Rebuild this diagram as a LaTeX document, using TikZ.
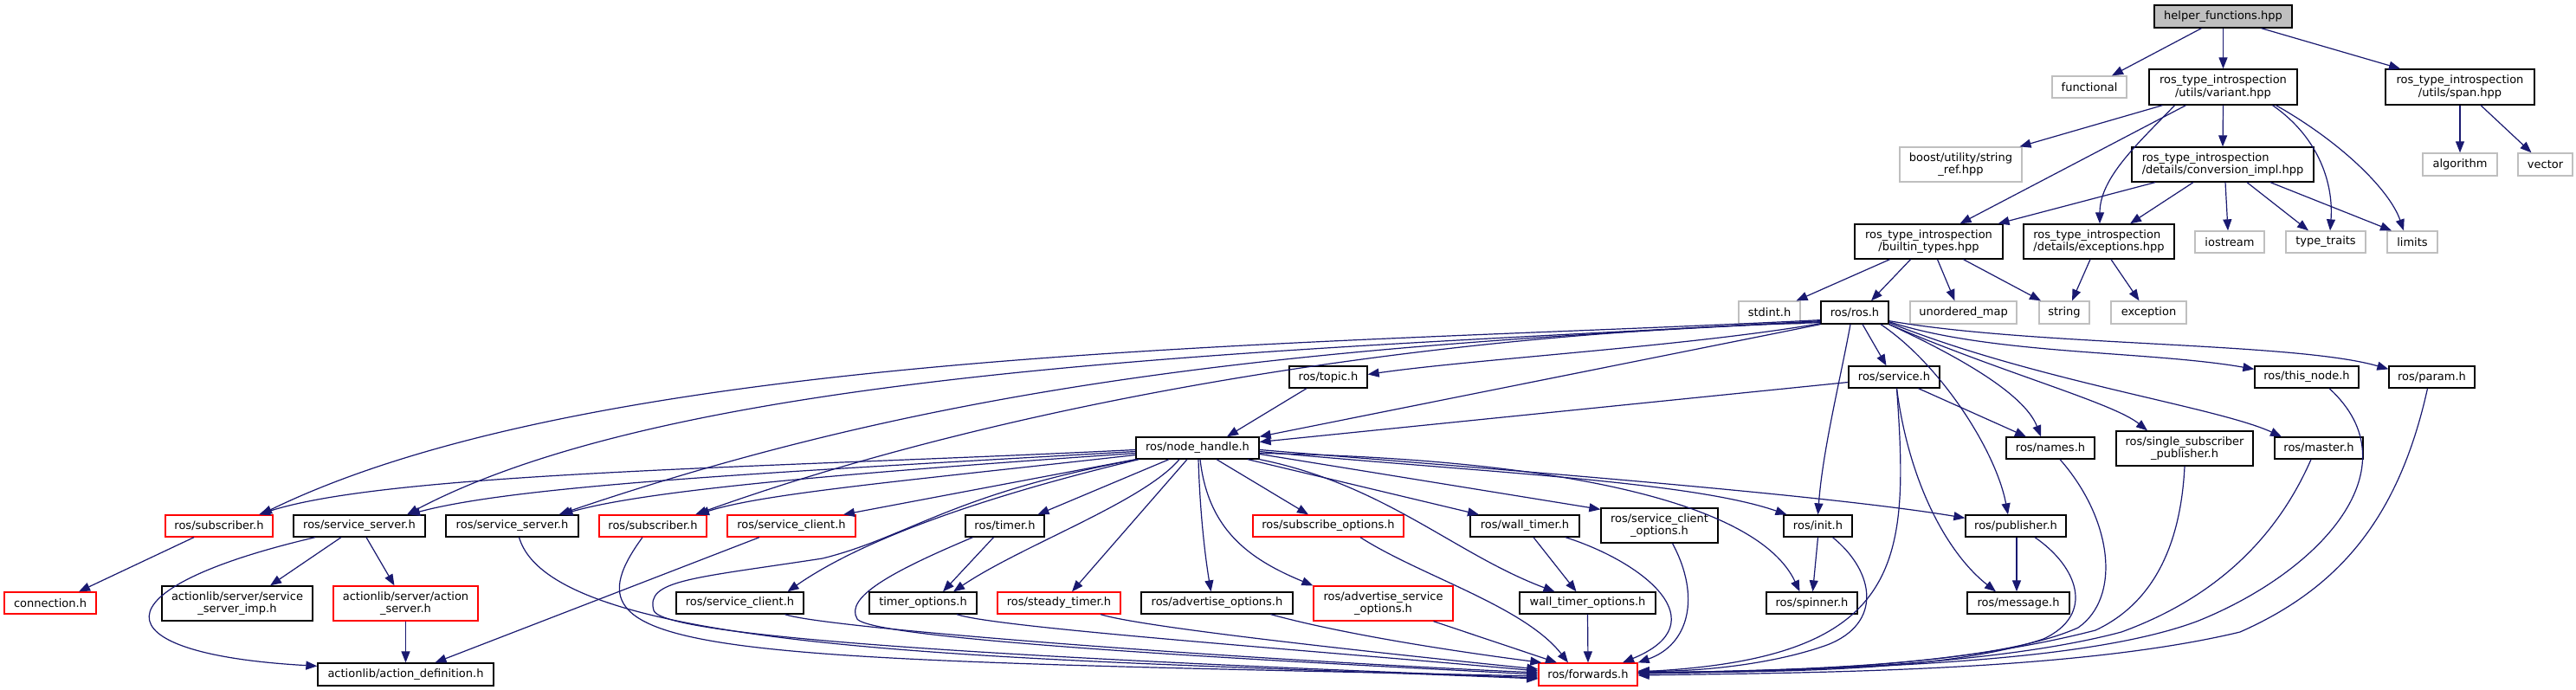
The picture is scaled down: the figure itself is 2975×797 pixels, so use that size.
\documentclass[tikz,border=0pt]{standalone}
\usepackage{fontspec}
\setmainfont{DejaVu Sans}
\usetikzlibrary{arrows.meta}
\definecolor{midblue}{HTML}{191970}
\definecolor{sysgray}{HTML}{BFBFBF}
\definecolor{missred}{HTML}{FF0000}
\begin{document}
\begin{tikzpicture}[x=1pt,y=-1pt,
  nb/.style={draw=black,fill=white,line width=1.3pt,inner sep=0pt,align=center,text=black,font=\fontsize{13}{14.5}\selectfont},
  sys/.style={nb,draw=sysgray},
  miss/.style={nb,draw=missred},
  root/.style={nb,fill=sysgray},
  sz/.style 2 args={minimum width=#1pt,minimum height=#2pt},
  e/.style={draw=midblue,line width=1.2pt,-{Triangle[length=13pt,width=10pt]}}]
\fill[white] (0,0) rectangle (2975,797);
\useasboundingbox (0,0) rectangle (2975,797);
% ---------- nodes ----------
\node[root,sz={159}{26}] (helper) at (2567.5,19) {helper\_functions.hpp};
\node[sys,sz={86}{25}] (functional) at (2413,100.5) {functional};
\node[nb,sz={171}{41}] (variant) at (2567.5,100.5) {ros\_type\_introspection\\/utils/variant.hpp};
\node[nb,sz={172}{41}] (span) at (2841,100.5) {ros\_type\_introspection\\/utils/span.hpp};
\node[sys,sz={141}{40}] (boost) at (2264.5,190) {boost/utility/string\\\_ref.hpp};
\node[nb,sz={210}{40},align=left] (conv) at (2567,190) {ros\_type\_introspection\\/details/conversion\_impl.hpp};
\node[sys,sz={86}{26}] (algorithm) at (2841,190) {algorithm};
\node[sys,sz={63}{26}] (vector) at (2939.5,190) {vector};
\node[nb,sz={171}{40}] (builtin) at (2227.5,279) {ros\_type\_introspection\\/builtin\_types.hpp};
\node[nb,sz={174}{40},align=left] (exceptions) at (2424,279) {ros\_type\_introspection\\/details/exceptions.hpp};
\node[sys,sz={80}{25}] (iostream) at (2575,279.5) {iostream};
\node[sys,sz={92}{25}] (typetraits) at (2686,279.5) {type\_traits};
\node[sys,sz={58}{25}] (limits) at (2786,279.5) {limits};
\node[sys,sz={71}{26}] (stdint) at (2043.5,361) {stdint.h};
\node[nb,sz={78}{26}] (rosh) at (2142,361) {ros/ros.h};
\node[sys,sz={123}{26}] (umap) at (2267.5,361) {unordered\_map};
\node[sys,sz={58}{26}] (string) at (2384,361) {string};
\node[sys,sz={87}{26}] (exception) at (2481.5,361) {exception};
\node[nb,sz={90}{25}] (topic) at (1534,435.5) {ros/topic.h};
\node[nb,sz={105}{25}] (service) at (2187.5,435.5) {ros/service.h};
\node[nb,sz={120}{25}] (thisnode) at (2664,435.5) {ros/this\_node.h};
\node[nb,sz={99}{25}] (param) at (2808.5,435.5) {ros/param.h};
\node[nb,sz={142}{25}] (nh) at (1383,517.5) {ros/node\_handle.h};
\node[nb,sz={102}{25}] (names) at (2368,517.5) {ros/names.h};
\node[nb,sz={158}{40}] (single) at (2523,518) {ros/single\_subscriber\\\_publisher.h};
\node[nb,sz={102}{25}] (master) at (2678,517.5) {ros/master.h};
\node[miss,sz={124}{25}] (sub1) at (253,607.5) {ros/subscriber.h};
\node[nb,sz={152}{25}] (ss1) at (415,607.5) {ros/service\_server.h};
\node[nb,sz={153}{25}] (ss2) at (591.5,607.5) {ros/service\_server.h};
\node[miss,sz={124}{25}] (sub2) at (754,607.5) {ros/subscriber.h};
\node[miss,sz={148}{25}] (scred) at (914,607.5) {ros/service\_client.h};
\node[nb,sz={91}{25}] (timer) at (1160.5,607.5) {ros/timer.h};
\node[miss,sz={174}{25}] (subopts) at (1534,607.5) {ros/subscribe\_options.h};
\node[nb,sz={126}{25}] (walltimer) at (1761,607.5) {ros/wall\_timer.h};
\node[nb,sz={135}{40}] (sco) at (1916.5,607) {ros/service\_client\\\_options.h};
\node[nb,sz={79}{25}] (init) at (2099.5,607.5) {ros/init.h};
\node[nb,sz={116}{25}] (publisher) at (2328,607.5) {ros/publisher.h};
\node[miss,sz={106}{25}] (connection) at (58,696.5) {connection.h};
\node[nb,sz={174}{40}] (ssimp) at (274,697) {actionlib/server/service\\\_server\_imp.h};
\node[miss,sz={167}{40}] (actserver) at (468.5,697) {actionlib/server/action\\\_server.h};
\node[nb,sz={147}{25}] (sc) at (854.5,696.5) {ros/service\_client.h};
\node[nb,sz={124}{25}] (timeropts) at (1066,696.5) {timer\_options.h};
\node[miss,sz={142}{25}] (steady) at (1223,696.5) {ros/steady\_timer.h};
\node[nb,sz={175}{25}] (advopts) at (1405.5,696.5) {ros/advertise\_options.h};
\node[miss,sz={161}{40}] (aso) at (1597.5,697) {ros/advertise\_service\\\_options.h};
\node[nb,sz={157}{25}] (wtopts) at (1833.5,696.5) {wall\_timer\_options.h};
\node[nb,sz={105}{25}] (spinner) at (2092.5,696.5) {ros/spinner.h};
\node[nb,sz={118}{25}] (message) at (2331,696.5) {ros/message.h};
\node[nb,sz={203}{26}] (actdef) at (468.5,779) {actionlib/action\_definition.h};
\node[miss,sz={114}{26}] (forwards) at (1834,779) {ros/forwards.h};
% ---------- edges: top ----------
\draw[e] ([xshift=-25]helper.south) -- ([xshift=26]functional.north);
\draw[e] (helper.south) -- (variant.north);
\draw[e] ([xshift=44]helper.south) -- ([xshift=-69]span.north);
\draw[e] ([xshift=-70]variant.south) -- ([xshift=68]boost.north);
\draw[e] ([xshift=-43]variant.south) -- ([xshift=36]builtin.north);
\draw[e] ([xshift=-56]variant.south) .. controls (2470,165) and (2425,205) .. ([xshift=1]exceptions.north);
\draw[e] (variant.south) -- (conv.north);
\draw[e] ([xshift=57]variant.south) .. controls (2680,160) and (2695,215) .. ([xshift=5]typetraits.north);
\draw[e] ([xshift=61]variant.south) .. controls (2705,165) and (2760,220) .. ([xshift=-10]limits.north);
\draw[e] (span.south) -- (algorithm.north);
\draw[e] ([xshift=24]span.south) -- ([xshift=-16]vector.north);
\draw[e] ([xshift=-78]conv.south) -- ([xshift=80]builtin.north);
\draw[e] ([xshift=-34]conv.south) -- ([xshift=36]exceptions.north);
\draw[e] ([xshift=3]conv.south) -- ([xshift=-2]iostream.north);
\draw[e] ([xshift=28]conv.south) -- ([xshift=-20]typetraits.north);
\draw[e] ([xshift=55]conv.south) -- ([xshift=-24]limits.north);
\draw[e] ([xshift=-45]builtin.south) -- ([xshift=31]stdint.north);
\draw[e] ([xshift=-21]builtin.south) -- ([xshift=19]rosh.north);
\draw[e] ([xshift=10]builtin.south) -- ([xshift=-10]umap.north);
\draw[e] ([xshift=40]builtin.south) -- ([xshift=-27]string.north);
\draw[e] ([xshift=-10]exceptions.south) -- ([xshift=9]string.north);
\draw[e] ([xshift=14]exceptions.south) -- ([xshift=-11]exception.north);
% ---------- edges: ros.h ----------
\draw[e] ([xshift=9]rosh.south) -- ([xshift=-9]service.north);
\draw[e] ([xshift=-5]rosh.south) .. controls (2125,440) and (2105,520) .. (init.north);
\draw[e] ([xshift=30]rosh.south) .. controls (2240,420) and (2305,520) .. ([xshift=-9]publisher.north);
\draw[e] (rosh.south east) .. controls (2280,420) and (2340,460) .. ([xshift=-11]names.north);
\draw[e] (rosh.south east) .. controls (2310,430) and (2440,465) .. ([xshift=-43]single.north);
\draw[e] ([yshift=2]rosh.south east) .. controls (2350,440) and (2560,470) .. ([xshift=-43]master.north);
\draw[e] ([yshift=3]rosh.south east) .. controls (2300,410) and (2480,405) .. ([yshift=-4]thisnode.north west);
\draw[e] ([yshift=4]rosh.south east) .. controls (2350,400) and (2650,395) .. ([yshift=-4]param.north west);
\draw[e] ([yshift=1]rosh.south west) .. controls (1950,400) and (1700,415) .. ([yshift=3]topic.east);
\draw[e] (rosh.south west) -- (nh.north east);
\draw[e] ([yshift=5]rosh.south west) .. controls (1500,400) and (700,400) .. ([xshift=48]sub1.north);
\draw[e] ([yshift=4]rosh.south west) .. controls (1500,405) and (800,420) .. ([xshift=55]ss1.north);
\draw[e] ([yshift=3]rosh.south west) .. controls (1500,400) and (1100,440) .. ([xshift=54]ss2.north);
\draw[e] ([yshift=2]rosh.south west) .. controls (1620,385) and (1150,470) .. ([xshift=49]sub2.north);
% ---------- edges: level 5/6 ----------
\draw[e] ([xshift=-25]topic.south) -- ([xshift=34]nh.north);
\draw[e] ([yshift=-6]service.west) -- ([yshift=7]nh.east);
\draw[e] ([xshift=28]service.south) -- ([xshift=-28]names.north);
\draw[e] ([xshift=3]service.south) .. controls (2205,560) and (2250,640) .. ([xshift=-26]message.north);
\draw[e] ([xshift=3]service.south) .. controls (2205,650) and (2200,760) .. ([yshift=3]forwards.east);
\draw[e] ([xshift=26]thisnode.south) .. controls (2790,540) and (2680,660) .. (2539,717) .. controls (2400,770) and (2100,772) .. ([yshift=1]forwards.east);
\draw[e] ([xshift=-5]param.south) .. controls (2770,600) and (2700,680) .. (2587,730) .. controls (2400,775) and (2100,777) .. ([yshift=-1]forwards.east);
\draw[e] ([xshift=11]names.south) .. controls (2440,600) and (2450,690) .. (2400,725) .. controls (2300,770) and (2050,775) .. ([yshift=2]forwards.east);
\draw[e] (single.south) .. controls (2518,640) and (2480,700) .. (2420,728) .. controls (2250,772) and (2050,776) .. ([yshift=2]forwards.east);
\draw[e] ([xshift=-9]master.south) .. controls (2630,620) and (2560,690) .. (2450,730) .. controls (2300,770) and (2050,776) .. ([yshift=1]forwards.east);
% ---------- edges: node_handle ----------
\draw[e] ([yshift=-2]nh.west) .. controls (900,540) and (450,545) .. ([xshift=46]sub1.north);
\draw[e] ([yshift=-4]nh.west) .. controls (900,545) and (600,560) .. ([xshift=57]ss1.north);
\draw[e] ([yshift=-6]nh.west) .. controls (1000,545) and (750,565) .. ([xshift=57]ss2.north);
\draw[e] ([yshift=-8]nh.west) .. controls (1050,555) and (880,570) .. ([xshift=52]sub2.north);
\draw[e] (nh.south west) -- ([xshift=60]scred.north);
\draw[e] ([xshift=4]nh.south west) .. controls (1150,570) and (1000,620) .. ([xshift=55]sc.north);
\draw[e] ([xshift=2]nh.south west) .. controls (1100,570) and (1050,620) .. (950,645) .. controls (800,668) and (745,670) .. (755,705) .. controls (765,740) and (1300,765) .. ([yshift=-4]forwards.west);
\draw[e] ([xshift=-33]nh.south) -- ([xshift=38]timer.north);
\draw[e] ([xshift=-21]nh.south) .. controls (1320,580) and (1180,630) .. ([xshift=35]timeropts.north);
\draw[e] ([xshift=-12]nh.south) -- ([xshift=15]steady.north);
\draw[e] ([xshift=1]nh.south) .. controls (1386,600) and (1393,650) .. ([xshift=-7]advopts.north);
\draw[e] ([xshift=3]nh.south) .. controls (1395,610) and (1440,645) .. (aso.north west);
\draw[e] ([xshift=22]nh.south) -- ([xshift=-23]subopts.north);
\draw[e] ([xshift=58]nh.south) -- ([xshift=-53]walltimer.north);
\draw[e] (nh.south east) .. controls (1600,560) and (1680,640) .. ([xshift=-38]wtopts.north);
\draw[e] ([yshift=-7]nh.east) -- ([yshift=-2]sco.north west);
\draw[e] ([yshift=-4]nh.east) .. controls (1700,545) and (1950,555) .. ([xshift=-36]init.north);
\draw[e] ([yshift=-2]nh.east) .. controls (1700,540) and (2100,570) .. ([yshift=-4]publisher.north west);
\draw[e] ([yshift=-6]nh.east) .. controls (1800,530) and (2030,580) .. ([xshift=-14]spinner.north);
% ---------- edges: level 7 ----------
\draw[e] ([xshift=-29]sub1.south) -- ([xshift=33]connection.north);
\draw[e] ([xshift=-21]ss1.south) -- ([xshift=38]ssimp.north);
\draw[e] ([xshift=8]ss1.south) -- ([xshift=-13]actserver.north);
\draw[e] ([xshift=-51]ss1.south) .. controls (110,680) and (110,755) .. ([yshift=-4]actdef.north west);
\draw[e] ([xshift=8]ss2.south) .. controls (640,760) and (1200,760) .. ([yshift=-5]forwards.west);
\draw[e] ([xshift=-12]sub2.south) .. controls (640,760) and (800,760) .. ([yshift=-2]forwards.west);
\draw[e] ([xshift=-37]scred.south) -- ([xshift=34]actdef.north);
\draw[e] ([xshift=-13]timer.south) -- ([xshift=23]timeropts.north);
\draw[e] ([xshift=-37]timer.south) .. controls (1030,660) and (975,690) .. (990,715) .. controls (1010,740) and (1500,765) .. (forwards.west);
\draw[e] ([xshift=37]subopts.south) .. controls (1640,665) and (1760,700) .. ([xshift=-23]forwards.north);
\draw[e] ([xshift=10]walltimer.south) -- ([xshift=-13]wtopts.north);
\draw[e] ([xshift=47]walltimer.south) .. controls (1900,650) and (1985,720) .. ([xshift=40]forwards.north);
\draw[e] ([xshift=15]sco.south) .. controls (1965,690) and (1950,745) .. (forwards.north east);
\draw[e] (init.south) -- ([xshift=1]spinner.north);
\draw[e] ([xshift=17]init.south) .. controls (2165,660) and (2175,720) .. (2110,745) .. controls (2040,770) and (1950,776) .. ([yshift=4]forwards.east);
\draw[e] ([xshift=1]publisher.south) -- ([xshift=-2]message.north);
\draw[e] ([xshift=22]publisher.south) .. controls (2400,655) and (2420,710) .. (2360,738) .. controls (2250,775) and (2050,777) .. ([yshift=3]forwards.east);
% ---------- edges: level 8 ----------
\draw[e] (actserver.south) -- (actdef.north);
\draw[e] ([xshift=52]sc.south) .. controls (950,725) and (1400,760) .. ([yshift=2]forwards.west);
\draw[e] ([xshift=39]timeropts.south) .. controls (1150,725) and (1500,750) .. ([yshift=4]forwards.west);
\draw[e] ([xshift=48]steady.south) .. controls (1320,725) and (1600,755) .. ([yshift=6]forwards.west);
\draw[e] ([xshift=62]advopts.south) .. controls (1560,735) and (1700,755) .. ([xshift=4]forwards.north west);
\draw[e] ([xshift=58]aso.south) -- ([xshift=-36]forwards.north);
\draw[e] (wtopts.south) -- (forwards.north);
\end{tikzpicture}
\end{document}
